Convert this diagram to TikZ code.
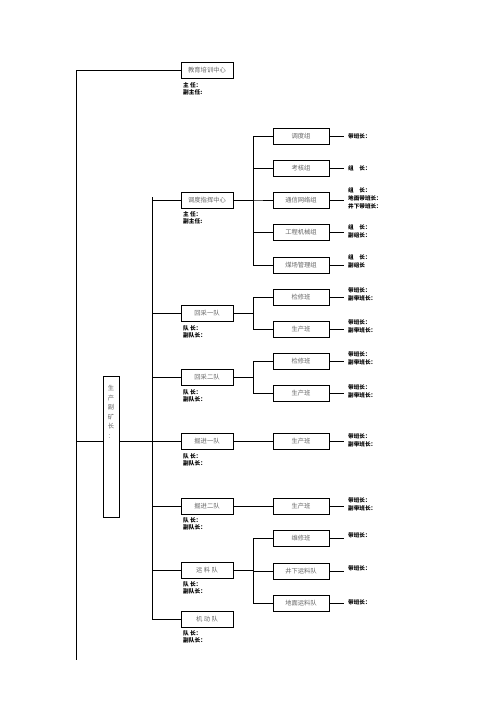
\documentclass[tikz,border=0pt]{standalone}
\usepackage{fontspec}
\newfontfamily\cjk{Noto Sans CJK SC}
\begin{document}
\begin{tikzpicture}[x=1pt,y=-1pt,
  box/.style={draw=black,line width=1pt,minimum width=52pt,minimum height=16pt,inner sep=0pt,
    font=\cjk\fontsize{6.3}{7}\selectfont,text=black!60},
  lab/.style={anchor=west,inner sep=0pt,align=left,font=\cjk\bfseries\fontsize{5.6}{8}\selectfont,text=black},
  sub/.style={anchor=north west,inner sep=0pt,align=left,font=\cjk\bfseries\fontsize{5.7}{7.2}\selectfont,text=black},
  conn/.style={line width=1pt,draw=black}]
\useasboundingbox (0,0) rectangle (496,702);
\fill[white] (0,0) rectangle (496,702);
% outer line coordinates
\coordinate (oTop) at (76,70.5);
\coordinate (oBot) at (76,660);
\coordinate (mTop) at (152,197);
\coordinate (row) at (0,441);
% top
\node[box] (jy) at (207,70.5) {教育培训中心};
\node[sub] (jyT) at (183,82) {主\ 任：\\副主任:};
% production vice head
\node[box,minimum width=16pt,minimum height=141pt] (fkz) at (111,447) {};
\node[anchor=north,inner sep=0pt,align=center,font=\cjk\fontsize{6.3}{9.6}\selectfont,text=black!60] (fkzT) at (111,385) {生\\产\\副\\矿\\长\\：};
% second level
\node[box] (dd) at (207,200) {调度指挥中心};
\node[sub] (ddT) at (183,211) {主\ 任：\\副主任:};
\node[box] (hc1) at (207,313.5) {回采一队};
\node[sub] (hc1T) at (183,325) {队\ 长：\\副队长：};
\node[box] (hc2) at (207,377.5) {回采二队};
\node[sub] (hc2T) at (183,389) {队\ 长：\\副队长：};
\node[box] (jj1) at (207,441) {掘进一队};
\node[sub] (jj1T) at (183,453) {队\ 长：\\副队长：};
\node[box] (jj2) at (207,506) {掘进二队};
\node[sub] (jj2T) at (183,517) {队\ 长：\\副队长：};
\node[box] (yl) at (207,570) {运\ 料\ 队};
\node[sub] (ylT) at (183,581) {队\ 长：\\副队长：};
\node[box] (jd) at (207,619) {机\ 动\ 队};
\node[sub] (jdT) at (183,630) {队\ 长：\\副队长：};
% third level
\node[box,minimum width=56pt] (a1) at (301,136) {调度组};
\node[box,minimum width=56pt] (a2) at (301,168.5) {考核组};
\node[box,minimum width=56pt] (a3) at (301,200) {通信网络组};
\node[box,minimum width=56pt] (a4) at (301,232) {工程机械组};
\node[box,minimum width=56pt] (a5) at (301,265) {煤场管理组};
\node[box,minimum width=56pt] (b1) at (301,297) {检修班};
\node[box,minimum width=56pt] (b2) at (301,329) {生产班};
\node[box,minimum width=56pt] (c1) at (301,361) {检修班};
\node[box,minimum width=56pt] (c2) at (301,393.5) {生产班};
\node[box,minimum width=56pt] (d1) at (301,441) {生产班};
\node[box,minimum width=56pt] (e1) at (301,506) {生产班};
\node[box,minimum width=56pt] (f1) at (301,538) {维修班};
\node[box,minimum width=56pt] (f2) at (301,571) {井下运料队};
\node[box,minimum width=56pt] (f3) at (301,603) {地面运料队};
% right labels
\node[lab] (la1) at (348,136) {带班长：};
\node[lab] (la2) at (348,168) {组\quad 长：};
\node[lab] (la3) at (348,198) {组\quad 长：\\地面带班长：\\井下带班长：};
\node[lab] (la4) at (348,231) {组\quad 长：\\副组长：};
\node[lab] (la5) at (348,261) {组\quad 长：\\副组长};
\node[lab] (lb1) at (348,294.5) {带班长：\\副带班长：};
\node[lab] (lb2) at (348,326) {带班长：\\副带班长：};
\node[lab] (lc1) at (348,358) {带班长：\\副带班长：};
\node[lab] (lc2) at (348,391) {带班长：\\副带班长：};
\node[lab] (ld1) at (348,440) {带班长：\\副带班长：};
\node[lab] (le1) at (348,504) {带班长：\\副带班长：};
\node[lab] (lf1) at (348,535) {带班长：};
\node[lab] (lf2) at (348,568) {带班长：};
\node[lab] (lf3) at (348,602) {带班长：};
% outer connectors
\draw[conn] (jy.west) -- (oTop) -- (oBot);
\draw[conn] (oBot |- row) -- (fkz.west |- row);
\draw[conn] (fkz.east |- row) -- (mTop |- row);
% main vertical
\draw[conn] (mTop) -- (mTop |- jd.west);
\foreach \n in {dd,hc1,hc2,jj1,jj2,yl,jd}
  \draw[conn] (\n.west) -- (\n.west -| mTop);
% third-level connectors
\foreach \n in {a1,a2,a3,a4,a5}
  \draw[conn] (dd.east) -- ++(20,0) |- (\n.west);
\foreach \n in {b1,b2}
  \draw[conn] (hc1.east) -- ++(20,0) |- (\n.west);
\foreach \n in {c1,c2}
  \draw[conn] (hc2.east) -- ++(20,0) |- (\n.west);
\draw[conn] (jj1.east) -- (d1.west);
\draw[conn] (jj2.east) -- (e1.west);
\foreach \n in {f1,f2,f3}
  \draw[conn] (yl.east) -- ++(20,0) |- (\n.west);
% label ticks
\foreach \b/\l in {a1/la1,a2/la2,a3/la3,a4/la4,a5/la5,b1/lb1,b2/lb2,c1/lc1,c2/lc2,d1/ld1,e1/le1,f1/lf1,f2/lf2,f3/lf3}
  \draw[conn] (\b.east) -- ++(14,0);
\end{tikzpicture}
\end{document}
